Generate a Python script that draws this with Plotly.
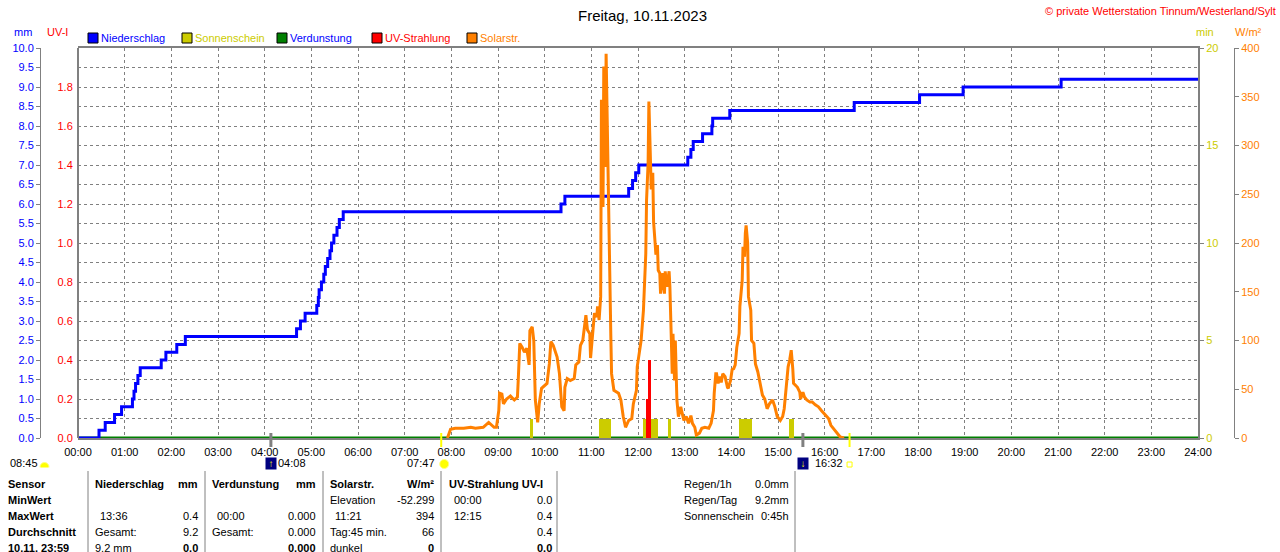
import plotly.graph_objects as go

# Freitag, 10.11.2023 - Tageswerte (Uhrzeit "HH:MM")
rain_time = ["00:00", "00:27", "00:35", "00:47", "00:56", "01:10", "01:12", "01:14",
             "01:17", "01:20", "01:47", "01:53", "02:07", "02:18", "04:41", "04:46",
             "04:52", "05:07", "05:09", "05:10", "05:13", "05:16", "05:18", "05:21",
             "05:24", "05:26", "05:29", "05:33", "05:36", "05:41", "10:21", "10:26",
             "11:48", "11:53", "11:57", "12:01", "13:04", "13:08", "13:11", "13:23",
             "13:35", "13:36", "13:58", "16:38", "18:02", "18:58", "21:04", "24:00"]
rain_mm = [0.0, 0.2, 0.4, 0.6, 0.8, 1.0, 1.2, 1.4,
           1.6, 1.8, 2.0, 2.2, 2.4, 2.6, 2.8, 3.0,
           3.2, 3.4, 3.6, 3.8, 4.0, 4.2, 4.4, 4.6,
           4.8, 5.0, 5.2, 5.4, 5.6, 5.8, 6.0, 6.2,
           6.4, 6.6, 6.8, 7.0, 7.2, 7.4, 7.6, 7.8,
           8.0, 8.2, 8.4, 8.6, 8.8, 9.0, 9.2, 9.2]

evap_time = ["00:00", "24:00"]
evap_mm = [0.0, 0.0]

solar_time = ["07:55", "07:59", "08:05", "08:16", "08:25", "08:31", "08:41", "08:48", "08:55", "08:58",
              "09:01", "09:02", "09:05", "09:07", "09:11", "09:16", "09:21", "09:25", "09:26", "09:28",
              "09:31", "09:34", "09:37", "09:40", "09:41", "09:44", "09:46", "09:48", "09:51", "09:53",
              "09:56", "10:03", "10:06", "10:08", "10:11", "10:16", "10:19", "10:22", "10:25", "10:26",
              "10:29", "10:33", "10:38", "10:40", "10:44", "10:46", "10:49", "10:51", "10:53", "10:55",
              "10:58", "10:59", "11:02", "11:04", "11:07", "11:08", "11:10", "11:12", "11:13", "11:15",
              "11:16", "11:18", "11:19", "11:21", "11:23", "11:25", "11:26", "11:29", "11:35", "11:38",
              "11:41", "11:44", "11:48", "11:52", "11:54", "11:58", "11:59", "12:02", "12:04", "12:07",
              "12:08", "12:10", "12:11", "12:13", "12:14", "12:16", "12:17", "12:19", "12:20", "12:22",
              "12:23", "12:25", "12:26", "12:28", "12:29", "12:32", "12:34", "12:35", "12:37", "12:40",
              "12:41", "12:43", "12:44", "12:45", "12:47", "12:48", "12:50", "12:52", "12:55", "12:56",
              "12:59", "13:02", "13:05", "13:08", "13:10", "13:13", "13:15", "13:19", "13:22", "13:26",
              "13:31", "13:34", "13:37", "13:38", "13:40", "13:41", "13:43", "13:45", "13:47", "13:49",
              "13:52", "13:55", "13:56", "13:59", "14:01", "14:03", "14:05", "14:07", "14:10", "14:11",
              "14:14", "14:15", "14:17", "14:18", "14:19", "14:21", "14:22", "14:25", "14:26", "14:29",
              "14:31", "14:34", "14:37", "14:40", "14:43", "14:46", "14:49", "14:53", "14:56", "14:59",
              "15:03", "15:06", "15:08", "15:11", "15:13", "15:15", "15:17", "15:19", "15:20", "15:25",
              "15:28", "15:29", "15:32", "15:34", "15:37", "15:41", "15:44", "15:48", "15:52", "15:56",
              "16:02", "16:05", "16:08", "16:11", "16:16", "16:20", "16:25"]
solar_wm2 = [0, 9, 10, 10, 11, 10, 11, 16, 11, 11,
             28, 46, 45, 35, 40, 43, 39, 42, 59, 97,
             93, 88, 92, 75, 110, 114, 100, 39, 16, 35,
             51, 56, 76, 99, 95, 83, 66, 32, 28, 52,
             61, 59, 61, 75, 78, 95, 100, 116, 126, 111,
             107, 82, 111, 128, 124, 135, 121, 145, 347, 237,
             381, 278, 394, 282, 169, 107, 66, 49, 46, 39,
             22, 11, 18, 20, 35, 49, 73, 93, 100, 131,
             159, 189, 244, 282, 345, 272, 255, 272, 222, 200,
             188, 198, 172, 169, 148, 169, 148, 171, 155, 171,
             155, 97, 66, 107, 59, 100, 39, 22, 32, 28,
             18, 22, 15, 23, 15, 11, 3, 5, 10, 11,
             10, 15, 28, 46, 66, 66, 56, 63, 57, 66,
             63, 52, 51, 59, 70, 71, 75, 93, 107, 135,
             162, 196, 186, 210, 218, 200, 145, 131, 100, 97,
             76, 68, 56, 44, 40, 30, 35, 39, 32, 22,
             18, 22, 30, 59, 73, 80, 90, 71, 56, 52,
             47, 40, 47, 42, 39, 37, 37, 34, 32, 28,
             23, 20, 13, 10, 5, 1, 0]

sun_start = ["09:41", "11:10", "12:07", "12:38", "14:10", "15:14"]
sun_end = ["09:45", "11:25", "12:26", "12:43", "14:27", "15:21"]
sun_min = [1, 1, 1, 1, 1, 1]

uv_start = ["12:11", "12:13"]
uv_end = ["12:13", "12:17"]
uv_index = [0.2, 0.4]

hour_labels = [f"{h:02d}:00" for h in range(25)]
uv_ticks = [0.0, 0.2, 0.4, 0.6, 0.8, 1.0, 1.2, 1.4, 1.6, 1.8]

sunrise, sunset, day_length = "07:47", "16:32", "08:45"
moonrise, moonset = "04:08", "15:32"

# Tabelle unter dem Diagramm
sensor_rows = ["Sensor", "MinWert", "MaxWert", "Durchschnitt", "10.11. 23:59"]
nieder_links = ["", "13:36", "Gesamt:", "9.2 mm"]
nieder_rechts = ["", "0.4", "9.2", "0.0"]
verdunst_links = ["", "00:00", "Gesamt:", ""]
verdunst_rechts = ["", "0.000", "0.000", "0.000"]
solar_links = ["Elevation", "11:21", "Tag:45 min.", "dunkel"]
solar_rechts = ["-52.299", "394", "66", "0"]
uv_links = ["00:00", "12:15", "", ""]
uv_rechts = ["0.0", "0.4", "0.4", "0.0"]
regen_labels = ["Regen/1h", "Regen/Tag", "Sonnenschein"]
regen_values = ["0.0mm", "9.2mm", "0:45h"]

legend_names = ["Niederschlag", "Sonnenschein", "Verdunstung", "UV-Strahlung", "Solarstr."]
legend_fill = ["#0000FF", "#CCCC00", "#008000", "#FF0000", "#FF8000"]
legend_text = ["#0000FF", "#CCCC00", "#0000FF", "#FF0000", "#FF8000"]

FONT = "Liberation Sans"
GRAY = "#808080"
W, H = 1280, 552


def hrs(t):
    h, m = t.split(":")
    return int(h) + int(m) / 60


def px(x):
    return x / W


def py(y):
    return 1 - y / H


fig = go.Figure()

fig.add_trace(go.Scatter(x=[hrs(t) for t in evap_time], y=evap_mm, mode="lines",
                         line=dict(color="#008000", width=3), hoverinfo="skip"))
fig.add_trace(go.Scatter(x=[hrs(t) for t in rain_time], y=rain_mm, mode="lines",
                         line=dict(color="#0000FF", width=3, shape="hv"), hoverinfo="skip"))

sun_s = [hrs(t) for t in sun_start]
sun_e = [hrs(t) for t in sun_end]
fig.add_trace(go.Bar(x=[(a + b) / 2 for a, b in zip(sun_s, sun_e)], y=sun_min,
                     width=[b - a for a, b in zip(sun_s, sun_e)],
                     marker=dict(color="#CCCC00", line=dict(width=0)), yaxis="y2", hoverinfo="skip"))

uv_s = [hrs(t) for t in uv_start]
uv_e = [hrs(t) for t in uv_end]
fig.add_trace(go.Bar(x=[(a + b) / 2 for a, b in zip(uv_s, uv_e)], y=uv_index,
                     width=[b - a for a, b in zip(uv_s, uv_e)],
                     marker=dict(color="#FF0000", line=dict(width=0)), yaxis="y3", hoverinfo="skip"))

fig.add_trace(go.Scatter(x=[hrs(t) for t in solar_time], y=solar_wm2, mode="lines",
                         line=dict(color="#FF8000", width=3), yaxis="y4", hoverinfo="skip"))

annotations = []
shapes = []


def txt(x, y, s, color="black", anchor="left", size=11, bold=False, xref="paper", xshift=0, **kw):
    ann = dict(
        x=x if xref != "paper" else px(x), y=py(y), xref=xref, yref="paper",
        text=f"<b>{s}</b>" if bold else s, showarrow=False,
        xanchor=anchor, yanchor="middle", xshift=xshift,
        font=dict(family=FONT, size=size, color=color))
    ann.update(kw)
    annotations.append(ann)


def sun_icon(xref, xa, y, r):
    # kleine Sonne (Kreis in Pixelgröße)
    shapes.append(dict(type="circle", xref=xref, yref="paper",
                       xsizemode="pixel", ysizemode="pixel", xanchor=xa, yanchor=py(y),
                       x0=-r, x1=r, y0=-r, y1=r,
                       fillcolor="#FFFF00", line=dict(color="#FFFF80", width=1)))


# Titel
txt(642, 15, "Freitag, 10.11.2023", anchor="center", size=15)
txt(1278, 11, "© private Wetterstation Tinnum/Westerland/Sylt", color="#FF0000", anchor="right")

# Achsentitel
txt(23, 32, "mm", color="#0000FF", anchor="center")
txt(57, 32, "UV-I", color="#FF0000", anchor="center")
txt(1205, 32, "min", color="#CCCC00", anchor="center")
txt(1248, 32, "W/m²", color="#FF8000", anchor="center")

# Legende
leg_x = [88, 182, 277, 372, 467]
for lx, name, fill, tc in zip(leg_x, legend_names, legend_fill, legend_text):
    shapes.append(dict(type="rect", xref="paper", yref="paper",
                       x0=px(lx), x1=px(lx + 10), y0=py(43), y1=py(33),
                       fillcolor=fill, line=dict(color="black", width=1)))
    txt(lx + 11, 38, name, color=tc)

# Sonnen-/Mondauf- und -untergang
for t in (sunrise, sunset):
    shapes.append(dict(type="line", xref="x", yref="paper", x0=hrs(t), x1=hrs(t),
                       y0=py(447), y1=py(433), line=dict(color="#FFFF00", width=2)))
for t in (moonrise, moonset):
    shapes.append(dict(type="line", xref="x", yref="paper", x0=hrs(t), x1=hrs(t),
                       y0=py(447), y1=py(433), line=dict(color=GRAY, width=3)))

txt(8, 463, day_length)
sun_icon("paper", px(44.5), 467, 4.5)
shapes.append(dict(type="rect", xref="paper", yref="paper", x0=px(38), x1=px(51),
                   y0=py(474), y1=py(467.5), fillcolor="white", line=dict(width=0)))
txt(hrs(moonrise), 463, "↑", color="#FFFF00", anchor="center", size=10, xref="x",
    bgcolor="#000080", width=10, height=11, borderpad=0)
txt(hrs(moonrise), 463, moonrise, xref="x", xshift=5)
txt(hrs(sunrise), 463, sunrise, anchor="right", xref="x", xshift=-4)
sun_icon("x", hrs(sunrise) + 3 / 46.67, 464, 4.5)
txt(hrs(moonset), 463, "↓", color="#FFFF00", anchor="center", size=10, xref="x",
    bgcolor="#000080", width=10, height=11, borderpad=0)
txt(hrs(moonset), 463, sunset, xref="x", xshift=10)
shapes.append(dict(type="rect", xref="x", yref="paper", xsizemode="pixel", ysizemode="pixel",
                   xanchor=hrs(sunset), yanchor=py(464.5), x0=-2.5, x1=2.5, y0=-2.5, y1=2.5,
                   line=dict(color="#FFFF00", width=1)))

# Tabelle
rows_y = [484, 500, 516, 532, 548]
for y, s in zip(rows_y, sensor_rows):
    txt(6, y, s, bold=True)

txt(93, rows_y[0], "Niederschlag", bold=True)
txt(200, rows_y[0], "mm", bold=True, anchor="right")
txt(210, rows_y[0], "Verdunstung", bold=True)
txt(318, rows_y[0], "mm", bold=True, anchor="right")
txt(328, rows_y[0], "Solarstr.", bold=True)
txt(436, rows_y[0], "W/m²", bold=True, anchor="right")
txt(447, rows_y[0], "UV-Strahlung UV-I", bold=True)

columns = [
    (nieder_links, nieder_rechts, 93, 200),
    (verdunst_links, verdunst_rechts, 210, 318),
    (solar_links, solar_rechts, 328, 436),
    (uv_links, uv_rechts, 447, 554),
]
for links, rechts, xl, xr in columns:
    for i, (a, b) in enumerate(zip(links, rechts)):
        y = rows_y[i + 1]
        if a:
            indent = 5 if ":" in a and not a.endswith(":") and "Tag" not in a else 0
            txt(xl + indent, y, a)
        if b:
            txt(xr, y, b, anchor="right", bold=(i == 3))

for y, a, b in zip(rows_y, regen_labels, regen_values):
    txt(682, y, a)
    txt(791, y, b, anchor="right")

for sx in [88, 205, 323, 441, 557, 795]:
    shapes.append(dict(type="line", xref="paper", yref="paper", x0=px(sx), x1=px(sx),
                       y0=py(471), y1=py(552), line=dict(color=GRAY, width=1)))

grid = dict(showgrid=True, gridcolor=GRAY, gridwidth=1, griddash="3px,3px")

fig.update_layout(
    width=W, height=H,
    margin=dict(l=0, r=0, t=0, b=0, autoexpand=False),
    paper_bgcolor="white", plot_bgcolor="white",
    showlegend=False, barmode="overlay", bargap=0,
    font=dict(family=FONT, size=11, color="black"),
    xaxis=dict(domain=[px(78), px(1198)], range=[0, 24], tickmode="array",
               tickvals=list(range(25)), ticktext=hour_labels, zeroline=False,
               showline=True, linecolor=GRAY, linewidth=2, mirror=True, automargin=False,
               ticks="outside", ticklen=3, tickcolor="rgba(0,0,0,0)",
               tickfont=dict(size=11, color="black"), layer="below traces", **grid),
    yaxis=dict(domain=[py(438), py(48)], range=[0, 10], anchor="free", position=px(40),
               side="left", tick0=0, dtick=0.5, tickformat=".1f", zeroline=False,
               tickfont=dict(size=11, color="#0000FF"), ticks="outside", ticklen=4,
               tickcolor=GRAY, showline=True, linecolor=GRAY, linewidth=1,
               automargin=False, **grid),
    yaxis2=dict(overlaying="y", anchor="x", side="right", range=[0, 20], dtick=5,
                tickfont=dict(size=11, color="#CCCC00"), ticks="outside", ticklen=4,
                tickcolor=GRAY, showline=True, linecolor=GRAY, linewidth=2,
                showgrid=False, zeroline=False, automargin=False),
    yaxis3=dict(overlaying="y", anchor="free", position=px(78), side="left", range=[0, 2],
                tickmode="array", tickvals=uv_ticks, tickformat=".1f",
                tickfont=dict(size=11, color="#FF0000"), ticks="outside", ticklen=2,
                tickcolor="rgba(0,0,0,0)", showline=True, linecolor=GRAY, linewidth=2,
                showgrid=False, zeroline=False, automargin=False),
    yaxis4=dict(overlaying="y", anchor="free", position=px(1234), side="right", range=[0, 400],
                dtick=50, tickfont=dict(size=11, color="#FF8000"), ticks="outside", ticklen=4,
                tickcolor=GRAY, showline=True, linecolor=GRAY, linewidth=1,
                showgrid=False, zeroline=False, automargin=False),
    annotations=annotations,
    shapes=shapes,
)

fig.write_html("out.html", config={"displayModeBar": False},
               post_script="document.body.style.margin='0';")
